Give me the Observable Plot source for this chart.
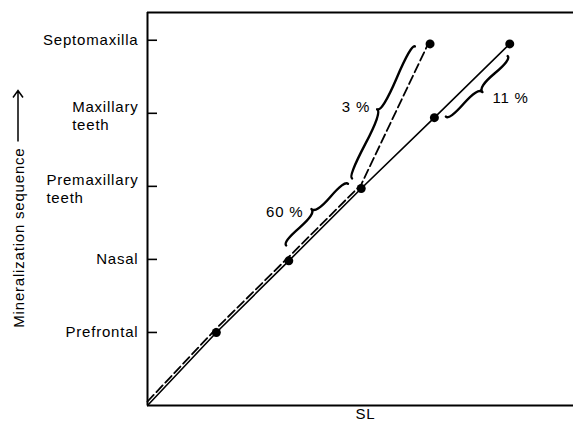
<!DOCTYPE html>
<html>
<head>
<meta charset="utf-8">
<script src="https://cdn.jsdelivr.net/npm/d3@7"></script>
<script src="https://cdn.jsdelivr.net/npm/@observablehq/plot@0.6"></script>
<style>
  html, body { margin: 0; padding: 0; background: #fff; }
  #chart svg { display: block; }
</style>
</head>
<body>
<div id="chart"></div>
<script>
// ---- data ----
const elements = ["Prefrontal", "Nasal", "Premaxillary\nteeth", "Maxillary\nteeth", "Septomaxilla"];
const levels = [1, 2, 3, 4, 5];

// solid series (SL position, mineralization level)
const solidElements = ["Prefrontal", "Nasal", "Premaxillary\nteeth", "Maxillary\nteeth", "Septomaxilla"];
const solidSL = [0.95, 1.95, 2.95, 3.96, 5.0];
const solidLevel = [1.0, 1.98, 2.97, 3.94, 4.95];

// dashed series
const dashedElements = ["Prefrontal", "Nasal", "Premaxillary\nteeth", "Septomaxilla"];
const dashedSL = [0.95, 1.95, 2.95, 3.90];
const dashedLevel = [1.0, 1.98, 2.97, 4.95];

// both lines start at the origin
const originSL = 0, originLevel = 0;

// brace annotations
const braceSeries = ["dashed", "dashed", "solid"];
const braceFrom = ["Nasal", "Premaxillary\nteeth", "Maxillary\nteeth"];
const braceTo = ["Premaxillary\nteeth", "Septomaxilla", "Septomaxilla"];
const braceLabels = ["60 %", "3 %", "11 %"];

const xLabel = "SL";
const yLabel = "Mineralization sequence";
const xDomain = [0, 5.88];
const yDomain = [0, 5.38];

// ---- build tables ----
const solid = [{sl: originSL, level: originLevel}].concat(solidSL.map((v, i) => ({sl: v, level: solidLevel[i], el: solidElements[i]})));
const dashed = [{sl: originSL, level: originLevel}].concat(dashedSL.map((v, i) => ({sl: v, level: dashedLevel[i], el: dashedElements[i]})));
const seriesMap = {solid, dashed};
const braces = braceLabels.map((label, i) => ({
  series: braceSeries[i],
  a: seriesMap[braceSeries[i]].find(d => d.el === braceFrom[i]),
  b: seriesMap[braceSeries[i]].find(d => d.el === braceTo[i]),
  label
}));

// ---- styling ----
const FONT = "'Liberation Sans', Arial, sans-serif";
const FS = 15;
const LS = 0.8;
const ctx = document.createElement("canvas").getContext("2d");
ctx.font = `${FS}px 'Liberation Sans'`;
const measure = s => ctx.measureText(s).width + LS * s.length;

const firstLine = elements.map(e => e.split("\n")[0]);
const secondLine = elements.map(e => e.split("\n")[1] || null);
const singleIdx = elements.map((e, i) => i).filter(i => !secondLine[i]);
const doubleIdx = elements.map((e, i) => i).filter(i => secondLine[i]);
const PAD = 9;

// brace geometry (pixel space), per brace: side sign, base offset, depth, end shrink, label placement
const braceStyle = [
  {side: [-1, -1], base: 12, depth: 8, s1: 9, s2: 6, anchor: "end", ldx: -8, ldy: 3},
  {side: [-1, -1], base: 12, depth: 7, s1: 5, s2: 9, anchor: "end", ldx: -7, ldy: -3},
  {side: [1, 1], base: 8, depth: 8, s1: 9, s2: 10, anchor: "start", ldx: 10, ldy: 5}
];

function bracePath(x1, y1, x2, y2, w, q) {
  let dx = x1 - x2, dy = y1 - y2;
  const len = Math.hypot(dx, dy);
  dx /= len; dy /= len;
  const qx1 = x1 + q * w * dy, qy1 = y1 - q * w * dx;
  const qx2 = (x1 - .25 * len * dx) + (1 - q) * w * dy, qy2 = (y1 - .25 * len * dy) - (1 - q) * w * dx;
  const tx1 = (x1 - .5 * len * dx) + w * dy, ty1 = (y1 - .5 * len * dy) - w * dx;
  const qx3 = x2 + q * w * dy, qy3 = y2 - q * w * dx;
  const qx4 = (x1 - .75 * len * dx) + (1 - q) * w * dy, qy4 = (y1 - .75 * len * dy) - (1 - q) * w * dx;
  return {
    d: `M${x1},${y1}Q${qx1},${qy1} ${qx2},${qy2}T${tx1},${ty1}M${x2},${y2}Q${qx3},${qy3} ${qx4},${qy4}T${tx1},${ty1}`,
    tip: [tx1, ty1]
  };
}

function braceMark(index, scales, values, dimensions) {
  const g = d3.create("svg:g");
  braces.forEach((br, i) => {
    const st = braceStyle[i];
    const ax = scales.x(br.a.sl), ay = scales.y(br.a.level);
    const bx = scales.x(br.b.sl), by = scales.y(br.b.level);
    const len = Math.hypot(bx - ax, by - ay);
    const ux = (bx - ax) / len, uy = (by - ay) / len;
    let nx = -uy, ny = ux;
    if (nx * st.side[0] + ny * st.side[1] < 0) { nx = -nx; ny = -ny; }
    const p1 = [ax + ux * st.s1 + nx * st.base, ay + uy * st.s1 + ny * st.base];
    const p2 = [bx - ux * st.s2 + nx * st.base, by - uy * st.s2 + ny * st.base];
    let A = p1, B = p2;
    let ddx = A[0] - B[0], ddy = A[1] - B[1];
    if (ddy * nx + (-ddx) * ny < 0) { A = p2; B = p1; }
    const br2 = bracePath(A[0], A[1], B[0], B[1], st.depth, 0.6);
    g.append("path").attr("d", br2.d).attr("fill", "none").attr("stroke", "#000")
      .attr("stroke-width", 2.4).attr("stroke-linecap", "round");
    g.append("text").attr("x", br2.tip[0] + st.ldx).attr("y", br2.tip[1] + st.ldy)
      .attr("text-anchor", st.anchor).attr("dominant-baseline", "central")
      .attr("font-size", FS).text(br.label);
  });
  return g.node();
}

function yTitleMark(index, scales, values, dimensions) {
  const cy = (dimensions.marginTop + dimensions.height - dimensions.marginBottom) / 2;
  const g = d3.create("svg:g").attr("transform", `translate(18,${cy}) rotate(-90)`);
  g.append("text").attr("x", 61).attr("y", 0).attr("text-anchor", "end")
    .attr("dominant-baseline", "central").attr("font-size", FS).text(yLabel);
  g.append("path").attr("d", "M67,0H118M111,-5L118,0L111,5").attr("fill", "none")
    .attr("stroke", "#000").attr("stroke-width", 1.5);
  return g.node();
}

const chart = Plot.plot({
  width: 573,
  height: 423,
  marginLeft: 147,
  marginRight: 0,
  marginTop: 12,
  marginBottom: 18,
  style: `font-family: ${FONT}; font-size: ${FS}px; letter-spacing: ${LS}px; color: #000; background: #fff;`,
  x: {domain: xDomain, axis: null},
  y: {domain: yDomain, axis: null},
  marks: [
    // frame: left, bottom, top
    Plot.ruleX([xDomain[0]], {stroke: "#000", strokeWidth: 2}),
    Plot.ruleY([yDomain[0]], {stroke: "#000", strokeWidth: 2}),
    Plot.ruleY([yDomain[1]], {stroke: "#000", strokeWidth: 2}),
    // inward y ticks
    Plot.axisY({ticks: levels, tickSize: -10, tickFormat: () => "", label: null, stroke: "#000", strokeWidth: 1.6}),
    // y tick labels
    Plot.text(singleIdx, {y: i => levels[i], text: i => firstLine[i], frameAnchor: "left", textAnchor: "end", dx: -PAD, fontSize: FS, fill: "#000"}),
    Plot.text(doubleIdx, {y: i => levels[i], text: i => firstLine[i], frameAnchor: "left", textAnchor: "end", dx: -PAD, dy: -6, fontSize: FS, fill: "#000"}),
    ...doubleIdx.map(i => Plot.text([i], {y: j => levels[j], text: j => secondLine[j], frameAnchor: "left", textAnchor: "start", dx: -PAD - measure(firstLine[i]), dy: 11.5, fontSize: FS, fill: "#000"})),
    // lines
    Plot.line(solid, {x: "sl", y: "level", stroke: "#000", strokeWidth: 1.6}),
    Plot.line(dashed, {x: "sl", y: "level", stroke: "#000", strokeWidth: 1.8, strokeDasharray: "9,4", dy: -4}),
    // points
    Plot.dot(solid.filter(d => d.el), {x: "sl", y: "level", r: 4.5, fill: "#000", stroke: null}),
    Plot.dot(dashed.filter(d => d.el === "Septomaxilla"), {x: "sl", y: "level", r: 4.5, fill: "#000", stroke: null}),
    // x label
    Plot.text([xLabel], {text: d => d, frameAnchor: "bottom", lineAnchor: "top", dy: 3, dx: 5, fontSize: FS, fill: "#000"}),
    braceMark,
    yTitleMark
  ]
});
document.getElementById("chart").appendChild(chart);
</script>
</body>
</html>
